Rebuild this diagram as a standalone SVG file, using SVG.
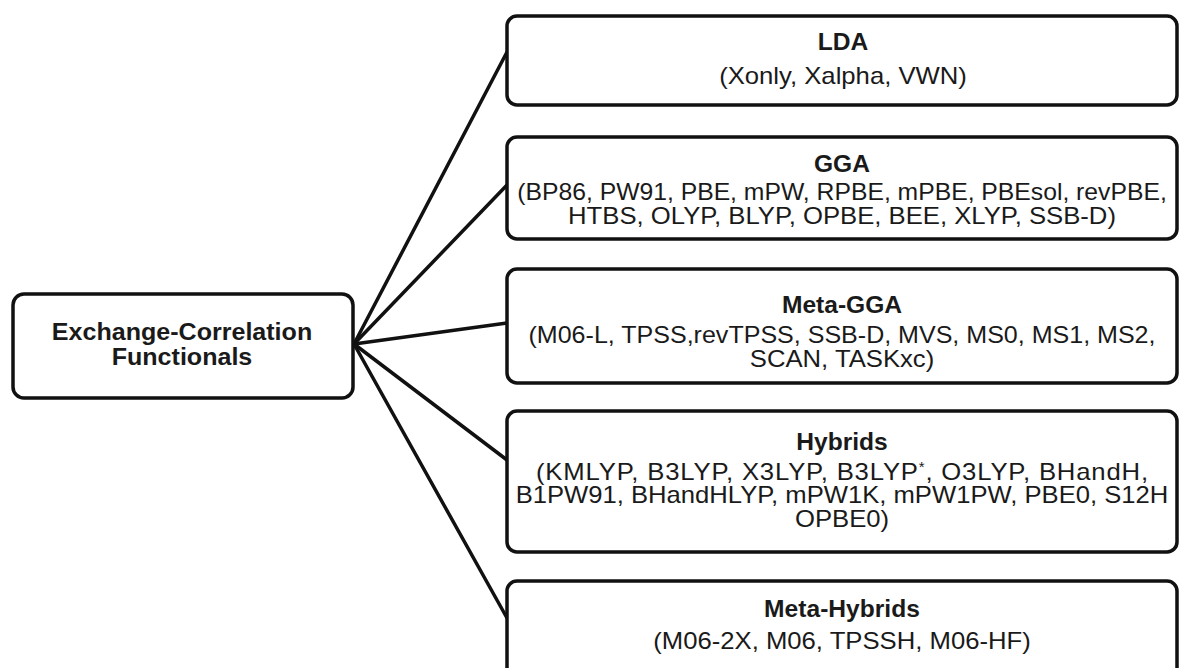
<svg xmlns="http://www.w3.org/2000/svg" width="1180" height="668" viewBox="0 0 1180 668">
<style>
.box{fill:#fff;stroke:#111;stroke-width:3.5}
.t{font-family:"Liberation Sans",Arial,sans-serif;fill:#1a1a1a;text-anchor:middle}
.h{font-weight:bold;font-size:23px}
.b{font-size:24px}
.c{stroke:#111;stroke-width:3.5;fill:none;stroke-linecap:round}
</style>
<rect width="1180" height="668" fill="#fff"/>
<g id="connectors">
<line class="c" x1="354" y1="344" x2="507" y2="52"/>
<line class="c" x1="354" y1="344" x2="507" y2="185"/>
<line class="c" x1="354" y1="344" x2="507" y2="323"/>
<line class="c" x1="354" y1="344" x2="507" y2="460"/>
<line class="c" x1="354" y1="344" x2="507" y2="618"/>
</g>
<g id="root">
<rect class="box" x="13" y="294" width="340" height="104" rx="11"/>
<g transform="translate(182 0) scale(1.09 1)">
<text class="t h" x="0" y="340">Exchange-Correlation</text>
<text class="t h" x="0" y="365">Functionals</text>
</g>
</g>
<g id="lda">
<rect class="box" x="507" y="16" width="670" height="89" rx="10"/>
<g transform="translate(843 0) scale(1.07 1)">
<text class="t h" x="0" y="50">LDA</text>
<text class="t b" x="0" y="84">(Xonly, Xalpha, VWN)</text>
</g>
</g>
<g id="gga">
<rect class="box" x="507" y="137" width="670" height="102" rx="10"/>
<g transform="translate(842 0) scale(1.07 1)">
<text class="t h" x="0" y="172">GGA</text>
<text class="t b" x="0" y="200" textLength="607" lengthAdjust="spacingAndGlyphs">(BP86, PW91, PBE, mPW, RPBE, mPBE, PBEsol, revPBE,</text>
<text class="t b" x="0" y="224">HTBS, OLYP, BLYP, OPBE, BEE, XLYP, SSB-D)</text>
</g>
</g>
<g id="metagga">
<rect class="box" x="507" y="269" width="670" height="114" rx="10"/>
<g transform="translate(842 0) scale(1.07 1)">
<text class="t h" x="0" y="313">Meta-GGA</text>
<text class="t b" x="0" y="343" textLength="586" lengthAdjust="spacingAndGlyphs">(M06-L, TPSS,revTPSS, SSB-D, MVS, MS0, MS1, MS2,</text>
<text class="t b" x="0" y="367">SCAN, TASKxc)</text>
</g>
</g>
<g id="hybrids">
<rect class="box" x="507" y="411" width="670" height="141" rx="10"/>
<g transform="translate(842 0) scale(1.07 1)">
<text class="t h" x="0" y="450">Hybrids</text>
<text class="t b" x="0" y="480" textLength="572">(KMLYP, B3LYP, X3LYP, B3LYP<tspan font-size="14" baseline-shift="super">*</tspan>, O3LYP, BHandH,</text>
<text class="t b" x="0" y="503" textLength="610" lengthAdjust="spacingAndGlyphs">B1PW91, BHandHLYP, mPW1K, mPW1PW, PBE0, S12H</text>
<text class="t b" x="0" y="527">OPBE0)</text>
</g>
</g>
<g id="metahybrids">
<rect class="box" x="507" y="581" width="670" height="110" rx="10"/>
<g transform="translate(842 0) scale(1.07 1)">
<text class="t h" x="0" y="617">Meta-Hybrids</text>
<text class="t b" x="0" y="649">(M06-2X, M06, TPSSH, M06-HF)</text>
</g>
</g>
</svg>
